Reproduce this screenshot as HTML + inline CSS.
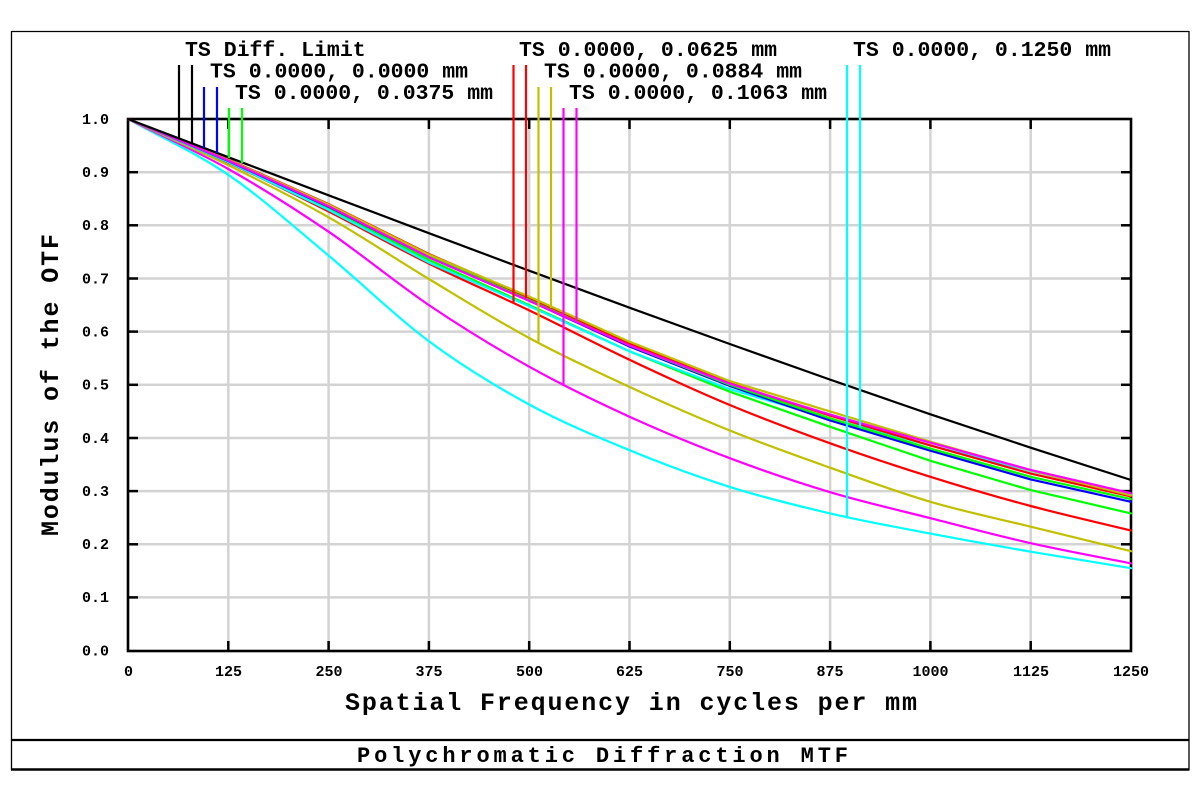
<!DOCTYPE html>
<html>
<head>
<meta charset="utf-8">
<style>
html,body{margin:0;padding:0;background:#fff;}
svg{display:block;}
text{font-family:"Liberation Mono","DejaVu Sans Mono",monospace;font-weight:bold;fill:#000;}
</style>
</head>
<body>
<svg width="1200" height="802" viewBox="0 0 1200 802" xmlns="http://www.w3.org/2000/svg">
<rect x="0" y="0" width="1200" height="802" fill="#fff"/>
<!-- outer frame -->
<line x1="11.5" y1="31.5" x2="1189" y2="31.5" stroke="#000" stroke-width="1.3"/>
<line x1="11.5" y1="31" x2="11.5" y2="770" stroke="#000" stroke-width="1.3"/>
<line x1="1189" y1="31" x2="1189" y2="770" stroke="#000" stroke-width="1.3"/>
<line x1="11" y1="740" x2="1189.5" y2="740" stroke="#000" stroke-width="2.2"/>
<line x1="11" y1="769.5" x2="1189.5" y2="769.5" stroke="#000" stroke-width="2.5"/>

<!-- gridlines -->
<g stroke="#d3d3d3" stroke-width="2.5">
<line x1="228.3" y1="119" x2="228.3" y2="651"/>
<line x1="328.6" y1="119" x2="328.6" y2="651"/>
<line x1="428.9" y1="119" x2="428.9" y2="651"/>
<line x1="529.2" y1="119" x2="529.2" y2="651"/>
<line x1="629.5" y1="119" x2="629.5" y2="651"/>
<line x1="729.8" y1="119" x2="729.8" y2="651"/>
<line x1="830.1" y1="119" x2="830.1" y2="651"/>
<line x1="930.4" y1="119" x2="930.4" y2="651"/>
<line x1="1030.7" y1="119" x2="1030.7" y2="651"/>
<line x1="128" y1="597.4" x2="1131" y2="597.4"/>
<line x1="128" y1="544.3" x2="1131" y2="544.3"/>
<line x1="128" y1="491.1" x2="1131" y2="491.1"/>
<line x1="128" y1="438.0" x2="1131" y2="438.0"/>
<line x1="128" y1="384.8" x2="1131" y2="384.8"/>
<line x1="128" y1="331.6" x2="1131" y2="331.6"/>
<line x1="128" y1="278.5" x2="1131" y2="278.5"/>
<line x1="128" y1="225.3" x2="1131" y2="225.3"/>
<line x1="128" y1="172.2" x2="1131" y2="172.2"/>
</g>

<!-- ticks -->
<g stroke="#000" stroke-width="2.5">
<line x1="228.3" y1="119" x2="228.3" y2="129"/><line x1="228.3" y1="651" x2="228.3" y2="641"/>
<line x1="328.6" y1="119" x2="328.6" y2="129"/><line x1="328.6" y1="651" x2="328.6" y2="641"/>
<line x1="428.9" y1="119" x2="428.9" y2="129"/><line x1="428.9" y1="651" x2="428.9" y2="641"/>
<line x1="529.2" y1="119" x2="529.2" y2="129"/><line x1="529.2" y1="651" x2="529.2" y2="641"/>
<line x1="629.5" y1="119" x2="629.5" y2="129"/><line x1="629.5" y1="651" x2="629.5" y2="641"/>
<line x1="729.8" y1="119" x2="729.8" y2="129"/><line x1="729.8" y1="651" x2="729.8" y2="641"/>
<line x1="830.1" y1="119" x2="830.1" y2="129"/><line x1="830.1" y1="651" x2="830.1" y2="641"/>
<line x1="930.4" y1="119" x2="930.4" y2="129"/><line x1="930.4" y1="651" x2="930.4" y2="641"/>
<line x1="1030.7" y1="119" x2="1030.7" y2="129"/><line x1="1030.7" y1="651" x2="1030.7" y2="641"/>
<line x1="128" y1="597.4" x2="138" y2="597.4"/><line x1="1131" y1="597.4" x2="1121" y2="597.4"/>
<line x1="128" y1="544.3" x2="138" y2="544.3"/><line x1="1131" y1="544.3" x2="1121" y2="544.3"/>
<line x1="128" y1="491.1" x2="138" y2="491.1"/><line x1="1131" y1="491.1" x2="1121" y2="491.1"/>
<line x1="128" y1="438.0" x2="138" y2="438.0"/><line x1="1131" y1="438.0" x2="1121" y2="438.0"/>
<line x1="128" y1="384.8" x2="138" y2="384.8"/><line x1="1131" y1="384.8" x2="1121" y2="384.8"/>
<line x1="128" y1="331.6" x2="138" y2="331.6"/><line x1="1131" y1="331.6" x2="1121" y2="331.6"/>
<line x1="128" y1="278.5" x2="138" y2="278.5"/><line x1="1131" y1="278.5" x2="1121" y2="278.5"/>
<line x1="128" y1="225.3" x2="138" y2="225.3"/><line x1="1131" y1="225.3" x2="1121" y2="225.3"/>
<line x1="128" y1="172.2" x2="138" y2="172.2"/><line x1="1131" y1="172.2" x2="1121" y2="172.2"/>
</g>
<!-- axes box -->
<rect x="128" y="119" width="1003" height="532" fill="none" stroke="#000" stroke-width="2.6"/>

<!-- curves -->
<g fill="none" stroke-width="2.2" stroke-linejoin="round" stroke-linecap="round">
<path stroke="#00ffff" d="M128,119 C161.4,137.6 194.9,152.0 228.3,174.8 C261.7,197.6 295.2,227.9 328.6,255.6 C362.0,283.3 395.5,316.4 428.9,341.2 C462.3,366.0 495.8,386.3 529.2,404.5 C562.6,422.7 596.1,436.5 629.5,450.2 C662.9,463.9 696.4,476.4 729.8,486.9 C763.2,497.4 796.7,505.6 830.1,513.4 C863.5,521.2 897.0,527.2 930.4,533.6 C963.8,540.0 997.3,545.9 1030.7,551.7 C1064.1,557.5 1097.6,562.7 1131,568.2"/>
<path stroke="#ff00ff" d="M128,119 C161.4,135.7 194.9,150.2 228.3,169.0 C261.7,187.8 295.2,209.0 328.6,231.7 C362.0,254.4 395.5,282.6 428.9,305.1 C462.3,327.6 495.8,348.1 529.2,366.7 C562.6,385.3 596.1,401.5 629.5,416.7 C662.9,432.0 696.4,445.6 729.8,458.2 C763.2,470.8 796.7,482.2 830.1,492.2 C863.5,502.2 897.0,509.7 930.4,518.2 C963.8,526.7 997.3,535.7 1030.7,543.2 C1064.1,550.7 1097.6,556.7 1131,563.4"/>
<path stroke="#c0c000" d="M128,119 C161.4,134.4 194.9,148.8 228.3,165.2 C261.7,181.6 295.2,198.3 328.6,217.3 C362.0,236.3 395.5,258.9 428.9,279.0 C462.3,299.1 495.8,320.0 529.2,338.0 C562.6,356.0 596.1,371.5 629.5,386.9 C662.9,402.3 696.4,417.0 729.8,430.5 C763.2,444.0 796.7,455.8 830.1,467.7 C863.5,479.6 897.0,492.0 930.4,501.8 C963.8,511.6 997.3,518.5 1030.7,526.7 C1064.1,534.9 1097.6,543.0 1131,551.2"/>
<path stroke="#ff0000" d="M128,119 C161.4,133.5 194.9,147.2 228.3,162.6 C261.7,178.0 295.2,194.7 328.6,211.5 C362.0,228.3 395.5,247.1 428.9,263.6 C462.3,280.1 495.8,294.4 529.2,310.4 C562.6,326.4 596.1,344.0 629.5,359.8 C662.9,375.6 696.4,391.1 729.8,405.0 C763.2,418.9 796.7,431.3 830.1,443.3 C863.5,455.3 897.0,466.4 930.4,476.8 C963.8,487.3 997.3,497.1 1030.7,506.0 C1064.1,515.0 1097.6,522.3 1131,530.5"/>
<polyline stroke="#00ff00" points="128,119 228.3,161.5 328.6,208.3 428.9,259.9 529.2,305.1 629.5,351.3 729.8,391.7 830.1,426.8 930.4,460.8 1030.7,490.1 1131,513.4"/>
<polyline stroke="#00ffff" points="128,119 228.3,162.1 328.6,209.9 428.9,262.5 529.2,306.1 629.5,351.3 729.8,389.1 830.1,418.8 930.4,445.4 1030.7,470.9 1131,494.8"/>
<polyline stroke="#0000ff" points="128,119 228.3,161.0 328.6,206.7 428.9,257.2 529.2,300.8 629.5,346.5 729.8,385.9 830.1,420.4 930.4,450.7 1030.7,479.4 1131,501.8"/>
<polyline stroke="#00ff00" points="128,119 228.3,160.5 328.6,205.7 428.9,256.2 529.2,299.7 629.5,345.5 729.8,384.8 830.1,418.3 930.4,448.6 1030.7,476.8 1131,499.1"/>
<polyline stroke="#ff0000" points="128,119 228.3,159.4 328.6,204.1 428.9,254.0 529.2,297.6 629.5,343.3 729.8,383.2 830.1,415.6 930.4,445.4 1030.7,473.6 1131,496.4"/>
<polyline stroke="#c0c000" points="128,119 228.3,159.9 328.6,204.6 428.9,254.6 529.2,296.6 629.5,341.7 729.8,381.1 830.1,411.4 930.4,441.7 1030.7,470.4 1131,495.4"/>
<polyline stroke="#ff00ff" points="128,119 228.3,160.5 328.6,206.2 428.9,257.2 529.2,300.8 629.5,345.5 729.8,383.7 830.1,414.6 930.4,442.7 1030.7,469.9 1131,493.2"/>
<polyline stroke="#000000" points="128,119 228.3,157.2 328.6,195.3 428.9,233.2 529.2,270.7 629.5,307.7 729.8,344.0 830.1,379.6 930.4,414.3 1030.7,447.7 1131,480.0"/>
</g>

<!-- legend marker lines -->
<g stroke-width="2.2">
<line x1="179" y1="65" x2="179" y2="138.3" stroke="#000"/>
<line x1="192" y1="65" x2="192" y2="143.3" stroke="#000"/>
<line x1="204" y1="87" x2="204" y2="148" stroke="#0000ff"/>
<line x1="217" y1="87" x2="217" y2="153" stroke="#0000ff"/>
<line x1="229" y1="108" x2="229" y2="158" stroke="#00ff00"/>
<line x1="242" y1="108" x2="242" y2="163" stroke="#00ff00"/>
<line x1="513.5" y1="65" x2="513.5" y2="303" stroke="#ff0000"/>
<line x1="526" y1="65" x2="526" y2="298" stroke="#ff0000"/>
<line x1="538.5" y1="87" x2="538.5" y2="341.7" stroke="#c0c000"/>
<line x1="551" y1="87" x2="551" y2="308" stroke="#c0c000"/>
<line x1="563.5" y1="108" x2="563.5" y2="385" stroke="#ff00ff"/>
<line x1="576.5" y1="108" x2="576.5" y2="320" stroke="#ff00ff"/>
<line x1="847" y1="65" x2="847" y2="516.7" stroke="#00ffff"/>
<line x1="860" y1="65" x2="860" y2="428" stroke="#00ffff"/>
</g>

<!-- legend text -->
<g font-size="21.5">
<text x="185" y="56">TS Diff. Limit</text>
<text x="210" y="77.5">TS 0.0000, 0.0000 mm</text>
<text x="235" y="99">TS 0.0000, 0.0375 mm</text>
<text x="519" y="56">TS 0.0000, 0.0625 mm</text>
<text x="544" y="77.5">TS 0.0000, 0.0884 mm</text>
<text x="569" y="99">TS 0.0000, 0.1063 mm</text>
<text x="853" y="56">TS 0.0000, 0.1250 mm</text>
</g>

<!-- y tick labels -->
<g font-size="15" text-anchor="end">
<text x="109" y="124">1.0</text>
<text x="109" y="177">0.9</text>
<text x="109" y="230">0.8</text>
<text x="109" y="283.5">0.7</text>
<text x="109" y="336.5">0.6</text>
<text x="109" y="389.5">0.5</text>
<text x="109" y="443">0.4</text>
<text x="109" y="496">0.3</text>
<text x="109" y="549">0.2</text>
<text x="109" y="602">0.1</text>
<text x="109" y="655.5">0.0</text>
</g>
<!-- x tick labels -->
<g font-size="15" text-anchor="middle">
<text x="128.5" y="676">0</text>
<text x="228.5" y="676">125</text>
<text x="329" y="676">250</text>
<text x="429" y="676">375</text>
<text x="529.5" y="676">500</text>
<text x="629.5" y="676">625</text>
<text x="730" y="676">750</text>
<text x="830" y="676">875</text>
<text x="930.5" y="676">1000</text>
<text x="1031" y="676">1125</text>
<text x="1131" y="676">1250</text>
</g>

<!-- axis labels -->
<text x="345" y="710" font-size="25" textLength="572" lengthAdjust="spacing">Spatial Frequency in cycles per mm</text>
<text transform="translate(58,385) rotate(-90)" text-anchor="middle" font-size="25" textLength="302" lengthAdjust="spacing">Modulus of the OTF</text>
<!-- title -->
<text x="357" y="762" font-size="22" textLength="491" lengthAdjust="spacing">Polychromatic Diffraction MTF</text>
</svg>
</body>
</html>
